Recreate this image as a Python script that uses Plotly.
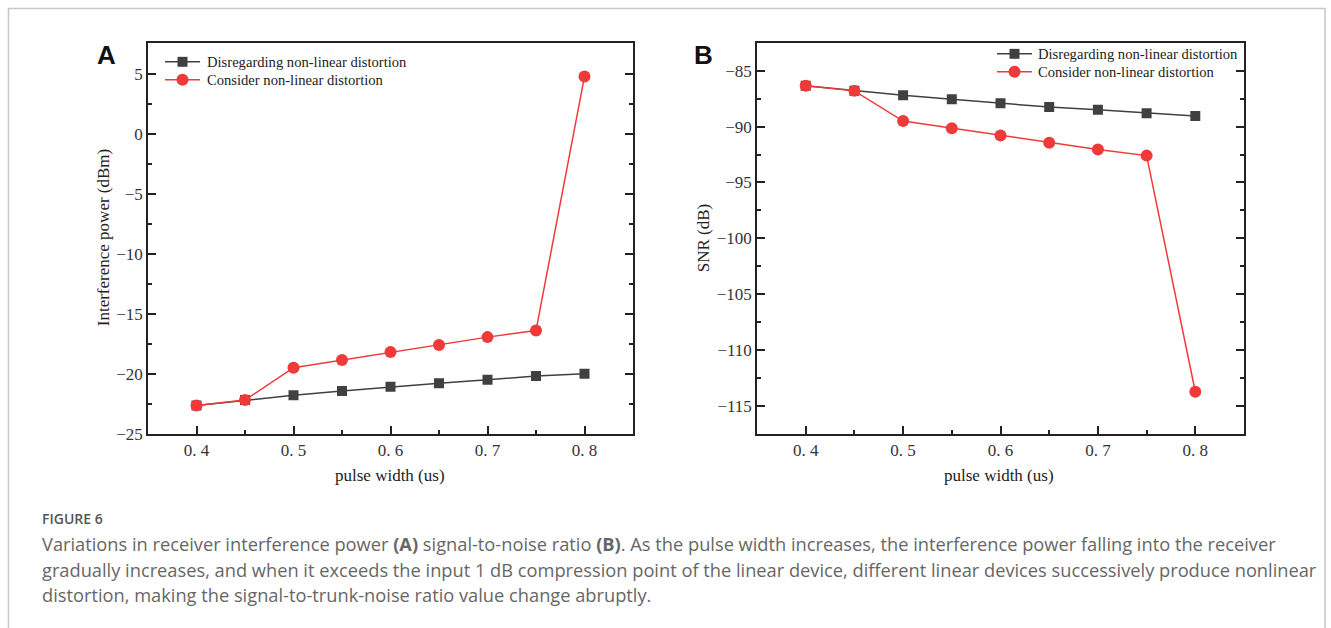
import plotly.graph_objects as go

pulse_width = [0.40, 0.45, 0.50, 0.55, 0.60, 0.65, 0.70, 0.75, 0.80]
power_linear = [-22.65, -22.2, -21.8, -21.45, -21.1, -20.8, -20.5, -20.2, -20.0]
power_nonlinear = [-22.65, -22.2, -19.5, -18.85, -18.2, -17.6, -16.95, -16.4, 4.8]
snr_linear = [-86.35, -86.8, -87.2, -87.55, -87.9, -88.25, -88.5, -88.8, -89.05]
snr_nonlinear = [-86.35, -86.8, -89.5, -90.15, -90.8, -91.45, -92.05, -92.6, -113.75]
x_major_vals = [0.4, 0.5, 0.6, 0.7, 0.8]
x_major_text = ["0. 4", "0. 5", "0. 6", "0. 7", "0. 8"]
x_minor_vals = [0.45, 0.55, 0.65, 0.75]
ya_major_vals = [5, 0, -5, -10, -15, -20, -25]
ya_major_text = ["5", "0", "\u22125", "\u221210", "\u221215", "\u221220", "\u221225"]
ya_minor_vals = [2.5, -2.5, -7.5, -12.5, -17.5, -22.5]
yb_major_vals = [-85, -90, -95, -100, -105, -110, -115]
yb_major_text = ["\u221285", "\u221290", "\u221295", "\u2212100", "\u2212105", "\u2212110", "\u2212115"]
yb_minor_vals = [-87.5, -92.5, -97.5, -102.5, -107.5, -112.5]

name_lin = "Disregarding non-linear distortion"
name_non = "Consider non-linear distortion"
BLACK = "#404040"
RED = "#f03a3a"
SERIF = "Liberation Serif"

W, H = 1331, 636
REF_H = 628
def px(x):
    return x / W
def py(y):
    return 1 - y / REF_H

fig = go.Figure()
fig.add_trace(go.Scatter(x=pulse_width, y=power_linear, name=name_lin, mode="lines+markers",
                         line=dict(color=BLACK, width=1.5), marker=dict(symbol="square", size=10, color=BLACK),
                         xaxis="x", yaxis="y"))
fig.add_trace(go.Scatter(x=pulse_width, y=power_nonlinear, name=name_non, mode="lines+markers",
                         line=dict(color=RED, width=1.5), marker=dict(symbol="circle", size=12, color=RED),
                         xaxis="x", yaxis="y"))
fig.add_trace(go.Scatter(x=pulse_width, y=snr_linear, name=name_lin, mode="lines+markers",
                         line=dict(color=BLACK, width=1.5), marker=dict(symbol="square", size=10, color=BLACK),
                         xaxis="x2", yaxis="y2"))
fig.add_trace(go.Scatter(x=pulse_width, y=snr_nonlinear, name=name_non, mode="lines+markers",
                         line=dict(color=RED, width=1.5), marker=dict(symbol="circle", size=12, color=RED),
                         xaxis="x2", yaxis="y2"))

axis_common = dict(showgrid=False, zeroline=False, showline=True, linecolor="#222", linewidth=1.5,
                   ticks="inside", ticklen=8, tickwidth=1.5, tickcolor="#222",
                   tickfont=dict(family=SERIF, size=17, color="#333"), tickmode="array")
minor_common = dict(ticks="inside", ticklen=4, tickwidth=1.5, tickcolor="#222", showgrid=False)

fig.update_layout(
    width=W, height=H, autosize=False,
    margin=dict(l=0, r=0, t=0, b=0),
    paper_bgcolor="white", plot_bgcolor="white",
    showlegend=False,
    xaxis=dict(domain=[px(148), px(633)], range=[0.35, 0.85], anchor="y", mirror=True,
               tickvals=x_major_vals, ticktext=x_major_text,
               minor=dict(tickvals=x_minor_vals, **minor_common), **axis_common),
    yaxis=dict(domain=[py(435), py(43)], range=[-25, 7.6], anchor="x", mirror="ticks",
               tickvals=ya_major_vals, ticktext=ya_major_text,
               minor=dict(tickvals=ya_minor_vals, **minor_common), **axis_common),
    xaxis2=dict(domain=[px(757), px(1244)], range=[0.35, 0.85], anchor="y2", mirror=True,
                tickvals=x_major_vals, ticktext=x_major_text,
                minor=dict(tickvals=x_minor_vals, **minor_common), **axis_common),
    yaxis2=dict(domain=[py(435), py(43)], range=[-117.5, -82.5], anchor="x2", mirror="ticks",
                tickvals=yb_major_vals, ticktext=yb_major_text,
                minor=dict(tickvals=yb_minor_vals, **minor_common), **axis_common),
)

annotations = [
    dict(text="<b>A</b>", x=px(106), y=py(55), font=dict(family="Liberation Sans", size=26, color="#111")),
    dict(text="<b>B</b>", x=px(703), y=py(55), font=dict(family="Liberation Sans", size=26, color="#111")),
    dict(text="Interference power (dBm)", x=px(103), y=py(239), textangle=-90,
         font=dict(family=SERIF, size=17, color="#222")),
    dict(text="pulse width (us)", x=px(390), y=py(477), font=dict(family=SERIF, size=17, color="#222")),
    dict(text="SNR (dB)", x=px(703), y=py(239), textangle=-90,
         font=dict(family=SERIF, size=17, color="#222")),
    dict(text="pulse width (us)", x=px(999), y=py(477), font=dict(family=SERIF, size=17, color="#222")),
    dict(text="FIGURE 6", x=px(40), y=py(520), xanchor="left",
         font=dict(family="Open Sans", size=14, color="#555", weight=600)),
    dict(text="Variations in receiver interference power <b>(A)</b> signal-to-noise ratio <b>(B)</b>. As the pulse width increases, the interference power falling into the receiver",
         x=px(40), y=py(545), xanchor="left", font=dict(family="Open Sans", size=18.25, color="#666")),
    dict(text="gradually increases, and when it exceeds the input 1 dB compression point of the linear device, different linear devices successively produce nonlinear",
         x=px(40), y=py(571), xanchor="left", font=dict(family="Open Sans", size=18.25, color="#666")),
    dict(text="distortion, making the signal-to-trunk-noise ratio value change abruptly.",
         x=px(40), y=py(596), xanchor="left", font=dict(family="Open Sans", size=18.25, color="#666")),
]

# legend entries (drawn as shapes + text)
legend_rows = [
    # (line x0, line x1, y, text x, color, symbol, text)
    (165, 200, 62, 205, BLACK, "square", name_lin),
    (165, 200, 80, 205, RED, "circle", name_non),
    (997, 1032, 54, 1036, BLACK, "square", name_lin),
    (997, 1032, 72, 1036, RED, "circle", name_non),
]
for x0, x1, y, tx, col, sym, txt in legend_rows:
    fig.add_shape(type="line", xref="paper", yref="paper", x0=px(x0), x1=px(x1), y0=py(y), y1=py(y),
                  line=dict(color=col, width=1.5))
    cx = (x0 + x1) / 2
    r = 5 if sym == "square" else 6
    fig.add_shape(type="rect" if sym == "square" else "circle", xref="paper", yref="paper",
                  x0=px(cx - r), x1=px(cx + r), y0=py(y + r), y1=py(y - r),
                  line=dict(color=col, width=0), fillcolor=col)
    annotations.append(dict(text=txt, x=px(tx), y=py(y), xanchor="left",
                            font=dict(family=SERIF, size=14.6, color="#222")))

for a in annotations:
    a.setdefault("xanchor", "center")
    fig.add_annotation(xref="paper", yref="paper", showarrow=False, yanchor="middle", **a)

fig.add_shape(type="rect", xref="paper", yref="paper", x0=px(8.5), x1=px(1325), y0=py(700), y1=py(8.5),
              line=dict(color="#c8c8c8", width=1.5), fillcolor="rgba(0,0,0,0)", layer="below")

fig.write_html("out.html", config={"displayModeBar": False},
               post_script="document.body.style.margin='0px';document.body.style.overflow='hidden';")
